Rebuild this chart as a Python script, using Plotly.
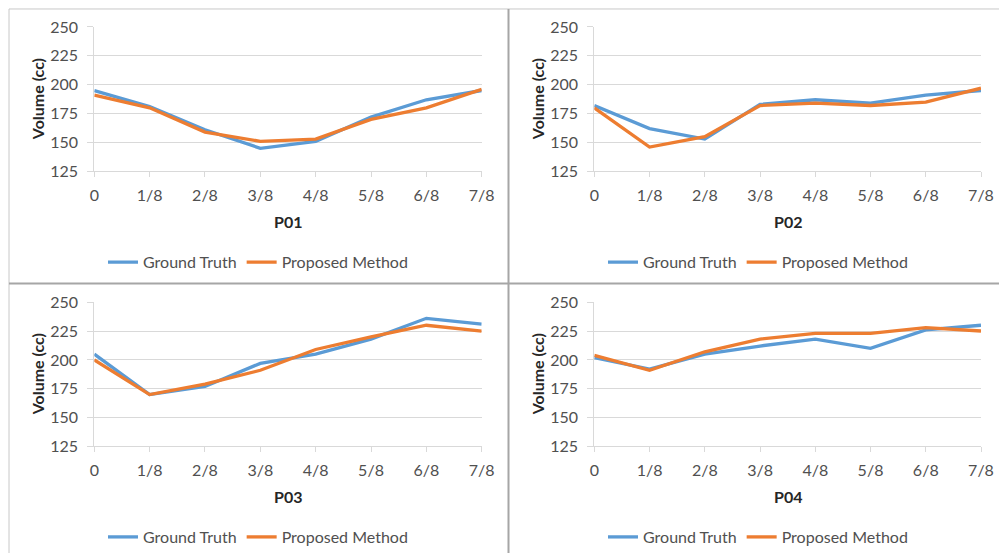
import plotly.graph_objects as go

W, H = 999, 554

phases = ["0", "1/8", "2/8", "3/8", "4/8", "5/8", "6/8", "7/8"]
panels = ["P01", "P02", "P03", "P04"]

gt_p01 = [195, 181, 161, 145, 151, 172, 187, 195]
pm_p01 = [191, 180, 159, 151, 153, 170, 180, 196]
gt_p02 = [182, 162, 153, 183, 187, 184, 191, 195]
pm_p02 = [180, 146, 155, 182, 184, 182, 185, 197]
gt_p03 = [205, 170, 177, 197, 205, 218, 236, 231]
pm_p03 = [200, 170, 179, 191, 209, 220, 230, 225]
gt_p04 = [202, 192, 205, 212, 218, 210, 226, 230]
pm_p04 = [204, 191, 207, 218, 223, 223, 228, 225]

ground_truth = [gt_p01, gt_p02, gt_p03, gt_p04]
proposed = [pm_p01, pm_p02, pm_p03, pm_p04]

y_ticks = [125, 150, 175, 200, 225, 250]

BLUE = "#5B9BD5"
ORANGE = "#ED7D31"
GRID = "#D9D9D9"
TXT = "#505050"
FONT = "Lato"

# plot areas in pixels: (x0, x1, ytop, ybottom)
areas = [
    (94.3, 481.7, 27.0, 171.7),
    (594.3, 981.0, 27.0, 171.7),
    (94.3, 481.7, 302.7, 447.3),
    (594.3, 981.0, 302.7, 447.3),
]
legend_cx = [258, 758, 258, 758]

def px(x):
    return x / W

def py(y):
    return 1 - y / H

fig = go.Figure()
annotations = []
layout = {}
for i in range(4):
    x0, x1, yt, yb = areas[i]
    sfx = "" if i == 0 else str(i + 1)
    lg = "legend" + sfx
    fig.add_trace(go.Scatter(
        x=phases, y=ground_truth[i], mode="lines", name="Ground Truth",
        line=dict(color=BLUE, width=3.3), xaxis="x" + sfx, yaxis="y" + sfx,
        legend=lg))
    fig.add_trace(go.Scatter(
        x=phases, y=proposed[i], mode="lines", name="Proposed Method",
        line=dict(color=ORANGE, width=3.3), xaxis="x" + sfx, yaxis="y" + sfx,
        legend=lg))
    layout["xaxis" + sfx] = dict(
        domain=[px(x0), px(x1)], anchor="y" + sfx, type="category",
        range=[0, len(phases) - 1], showgrid=False, showline=True,
        linecolor=GRID, linewidth=1, ticks="outside", ticklen=5,
        tickcolor=GRID, tickfont=dict(family=FONT, size=16, color=TXT),
        ticklabelstandoff=4, zeroline=False, automargin=False)
    layout["yaxis" + sfx] = dict(
        domain=[py(yb), py(yt)], anchor="x" + sfx, range=[125, 250],
        tickvals=y_ticks, showgrid=True, gridcolor=GRID, gridwidth=1,
        showline=True, linecolor=GRID, linewidth=1, ticks="outside",
        ticklen=6, tickcolor=GRID,
        tickfont=dict(family=FONT, size=16, color=TXT),
        ticklabelstandoff=6, zeroline=False, automargin=False)
    layout[lg] = dict(
        orientation="h", x=px(legend_cx[i]), xanchor="center",
        y=py(yb + 90.5), yanchor="middle", bgcolor="rgba(0,0,0,0)",
        font=dict(family=FONT, size=16, color=TXT), traceorder="normal")
    annotations.append(dict(
        text="<b>Volume (cc)</b>", textangle=-90,
        x=px(37 if i % 2 == 0 else 537), y=py((yt + yb) / 2),
        xref="paper", yref="paper", showarrow=False, xanchor="center",
        yanchor="middle", font=dict(family=FONT, size=16, color="#262626")))
    annotations.append(dict(
        text="<b>" + panels[i] + "</b>", x=px((x0 + x1) / 2), y=py(yb + 50),
        xref="paper", yref="paper", showarrow=False, xanchor="center",
        yanchor="middle", font=dict(family=FONT, size=16, color="#262626")))

shapes = [
    dict(type="line", xref="paper", yref="paper", x0=px(9), x1=1, y0=py(9), y1=py(9),
         line=dict(color="#C8C8C8", width=1)),
    dict(type="line", xref="paper", yref="paper", x0=px(9), x1=px(9), y0=py(9), y1=0,
         line=dict(color="#C8C8C8", width=1)),
    dict(type="line", xref="paper", yref="paper", x0=px(508.5), x1=px(508.5), y0=py(9), y1=0,
         line=dict(color="#A6A6A6", width=2)),
    dict(type="line", xref="paper", yref="paper", x0=px(9), x1=1, y0=py(284), y1=py(284),
         line=dict(color="#A6A6A6", width=2)),
]

fig.update_layout(
    width=W, height=H, margin=dict(l=0, r=0, t=0, b=0),
    paper_bgcolor="white", plot_bgcolor="white",
    font=dict(family=FONT, size=16, color=TXT),
    annotations=annotations, shapes=shapes, **layout)

fig.write_html("out.html")
